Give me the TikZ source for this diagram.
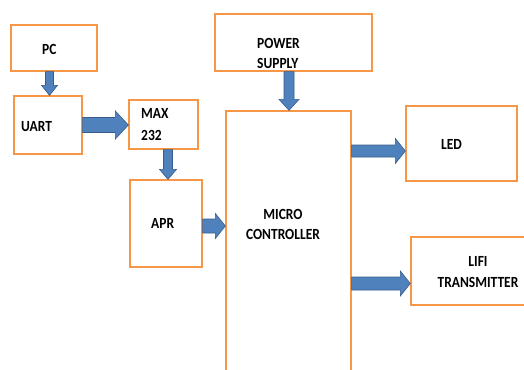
\documentclass[tikz,border=0pt]{standalone}
\usepackage{fontspec}
\newfontfamily\lblfont[FakeStretch=0.87]{Carlito}
\usetikzlibrary{calc}
\definecolor{boxorange}{HTML}{F79646}
\definecolor{arrowblue}{HTML}{4F81BD}
\definecolor{arrowedge}{HTML}{385D8A}
\tikzset{
  blk/.style={draw=boxorange, line width=1.3bp, rectangle, inner sep=0pt, fill=white},
  lbl/.style={inner sep=0pt, font=\lblfont\bfseries\fontsize{15.5bp}{20bp}\selectfont, text=black},
  barrow/.style={fill=arrowblue, draw=arrowedge, line width=0.6bp, line join=miter}
}
% right-pointing block arrow: start, end, shaft half, head half, head length
\newcommand\harrowR[5]{%
  \draw[barrow] let \p1=#1, \p2=#2 in
    (\x1,\y1+#3) -- (\x2-#5,\y1+#3) -- (\x2-#5,\y1+#4) -- (\x2,\y1) --
    (\x2-#5,\y1-#4) -- (\x2-#5,\y1-#3) -- (\x1,\y1-#3) -- cycle;}
% down-pointing block arrow
\newcommand\varrowD[5]{%
  \draw[barrow] let \p1=#1, \p2=#2 in
    (\x1-#3,\y1) -- (\x1-#3,\y2+#5) -- (\x1-#4,\y2+#5) -- (\x1,\y2) --
    (\x1+#4,\y2+#5) -- (\x1+#3,\y2+#5) -- (\x1+#3,\y1) -- cycle;}
\begin{document}
\begin{tikzpicture}[x=1bp,y=-1bp]
\clip (0,0) rectangle (524,369);
\fill[white] (0,0) rectangle (524,369);
% boxes
\node[blk, minimum width=86bp, minimum height=46bp] (pc) at (54,48) {};
\node[blk, minimum width=68bp, minimum height=58bp] (uart) at (48,125) {};
\node[blk, minimum width=69bp, minimum height=49bp] (max) at (163.5,124.5) {};
\node[blk, minimum width=72bp, minimum height=87bp] (apr) at (166,223.5) {};
\node[blk, minimum width=125bp, minimum height=270bp] (mc) at (288.5,246) {};
\node[blk, minimum width=157bp, minimum height=57bp] (ps) at (293.5,42.5) {};
\node[blk, minimum width=111bp, minimum height=75bp] (led) at (461.5,143.5) {};
\node[blk, minimum width=118bp, minimum height=68bp] (lifi) at (470,271) {};
% labels
\node[lbl, anchor=base west] (tpc) at (42,54.5) {PC};
\node[lbl, anchor=base west] (tuart) at (21,131) {UART};
\node[lbl, anchor=base west] (tmax1) at (141,118.5) {MAX};
\node[lbl, anchor=base west] (tmax2) at (141,140) {232};
\node[lbl, anchor=base west] (tps1) at (257,48.5) {POWER};
\node[lbl, anchor=base west] (tps2) at (257,68.5) {SUPPLY};
\node[lbl, anchor=base west] (tled) at (441,149.5) {LED};
\node[lbl, anchor=base west] (tapr) at (151,228.5) {APR};
\node[lbl, anchor=base] (tmc1) at (283,219.5) {MICRO};
\node[lbl, anchor=base] (tmc2) at (283,239.5) {CONTROLLER};
\node[lbl, anchor=base] (tlifi1) at (478,266.5) {LIFI};
\node[lbl, anchor=base] (tlifi2) at (478,287.5) {TRANSMITTER};
% block arrows
\varrowD{(49.5,0 |- pc.south)}{(49.5,0 |- uart.north)}{4bp}{8bp}{10bp}
\harrowR{(uart.east |- 0,125)}{(max.west |- 0,125)}{7.5bp}{14bp}{13bp}
\varrowD{(168,0 |- max.south)}{(168,0 |- apr.north)}{4.5bp}{8.5bp}{10bp}
\harrowR{(apr.east |- 0,226)}{(mc.west |- 0,226)}{7bp}{12.5bp}{10bp}
\varrowD{(289,0 |- ps.south)}{(289,0 |- mc.north)}{5bp}{10bp}{11bp}
\harrowR{(mc.east |- 0,151)}{(led.west |- 0,151)}{6bp}{12.5bp}{10bp}
\harrowR{(mc.east |- 0,283.5)}{(lifi.west |- 0,283.5)}{6.5bp}{12.5bp}{10bp}
\end{tikzpicture}
\end{document}
